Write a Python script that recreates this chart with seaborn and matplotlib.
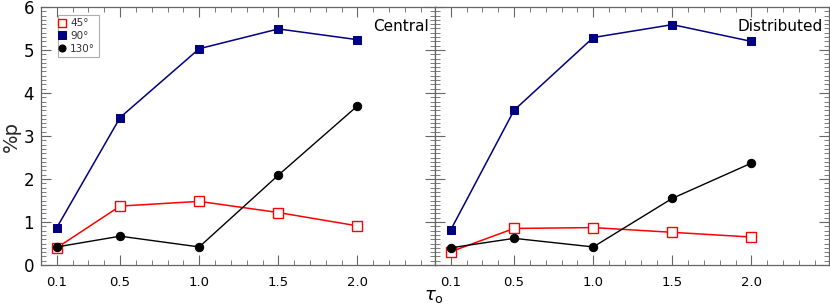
import numpy as np
import pandas as pd
import matplotlib
matplotlib.use("Agg")
import matplotlib.pyplot as plt
import seaborn as sns
from matplotlib.ticker import FixedLocator, MultipleLocator

sns.set_style("ticks")
plt.rcParams['font.family'] = ['DejaVu Sans']
plt.rcParams['text.color'] = 'black'

tau = [0.1, 0.5, 1.0, 1.5, 2.0]
panels = ["Central", "Distributed"]
angles = ["45°", "90°", "130°"]

central_45 = [0.40, 1.37, 1.48, 1.22, 0.91]
central_90 = [0.87, 3.43, 5.03, 5.49, 5.24]
central_130 = [0.42, 0.67, 0.42, 2.09, 3.70]

distributed_45 = [0.31, 0.85, 0.87, 0.76, 0.65]
distributed_90 = [0.82, 3.60, 5.29, 5.59, 5.20]
distributed_130 = [0.40, 0.62, 0.42, 1.55, 2.37]

xtick_labels = ["0.1", "0.5", "1.0", "1.5", "2.0"]

rows = []
for panel, series in [("Central", [central_45, central_90, central_130]),
                      ("Distributed", [distributed_45, distributed_90, distributed_130])]:
    for ang, vals in zip(angles, series):
        for t, v in zip(tau, vals):
            rows.append({"panel": panel, "angle": ang, "tau": t, "p": v})
df = pd.DataFrame(rows)

styles = {
    "45°": dict(color="red", marker="s", markerfacecolor="white", markeredgecolor="red",
                markersize=6.5, markeredgewidth=1.0, lw=1.1),
    "90°": dict(color="#000080", marker="s", markerfacecolor="#000080", markeredgecolor="#000080",
                markersize=6.0, lw=1.1),
    "130°": dict(color="black", marker="o", markerfacecolor="black", markeredgecolor="black",
                 markersize=6.0, lw=1.0),
}

fig = plt.figure(figsize=(8.3, 3.05), dpi=100)
axw = 394 / 830
bottom = 40 / 305
height = 258 / 305
ax1 = fig.add_axes([41 / 830, bottom, axw, height])
ax2 = fig.add_axes([435 / 830, bottom, axw, height])

spine_col = "#666666"
for ax, panel in zip([ax1, ax2], panels):
    sub = df[df.panel == panel]
    for ang in angles:
        d = sub[sub.angle == ang]
        sns.lineplot(data=d, x="tau", y="p", ax=ax, label=ang, **styles[ang])
    ax.set_xlim(0, 2.49)
    ax.set_ylim(0, 6)
    ax.xaxis.set_major_locator(FixedLocator(tau))
    ax.set_xticklabels(xtick_labels)
    ax.xaxis.set_minor_locator(MultipleLocator(0.1))
    ax.yaxis.set_major_locator(MultipleLocator(1))
    ax.yaxis.set_minor_locator(MultipleLocator(0.1))
    ax.tick_params(which="both", direction="in", top=True, right=True, color=spine_col,
                   labelcolor="black")
    ax.tick_params(which="major", length=7, width=0.8)
    ax.tick_params(which="minor", length=3.5, width=0.6)
    ax.tick_params(axis="x", labelsize=9.5, pad=8)
    ax.tick_params(axis="y", labelsize=12, pad=5)
    for s in ax.spines.values():
        s.set_color(spine_col)
        s.set_linewidth(0.9)
    ax.set_xlabel("")
    ax.set_ylabel("")
    ax.text(0.985, 0.955, panel, transform=ax.transAxes, ha="right", va="top", fontsize=11)

ax1.set_ylabel("%p", fontsize=14, labelpad=2)
ax2.tick_params(axis="y", labelleft=False)
ax2.get_legend().remove()
leg = ax1.legend(loc="upper left", bbox_to_anchor=(0.03, 0.99), fontsize=7.5, frameon=True,
                 fancybox=False, edgecolor="#999999", handlelength=0.0, handletextpad=0.8,
                 borderpad=0.35, labelspacing=0.25, markerscale=0.85)
leg.get_frame().set_linewidth(0.8)
for t in leg.get_texts():
    t.set_color("#333333")

fig.text(434 / 830, 0 / 305, r"$\tau_{\rm o}$", ha="center", va="bottom", fontsize=13)

fig.savefig("out.png", dpi=100)
